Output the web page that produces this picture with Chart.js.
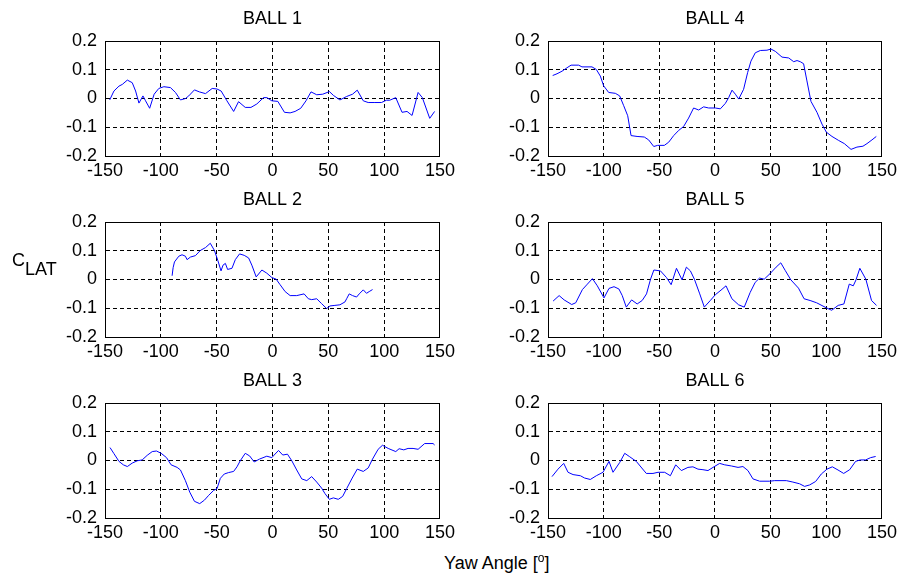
<!DOCTYPE html>
<html lang="en">
<head>
<meta charset="UTF-8">
<title>Lateral force coefficient vs yaw angle</title>
<script src="https://cdn.jsdelivr.net/npm/chart.js"></script>
<style>
    body {
        margin: 0;
        width: 901px;
        height: 579px;
        overflow: hidden;
        background: #fff;
        position: relative;
        font-family: "Liberation Sans", Arial, sans-serif;
    }
    canvas {
        position: absolute;
    }
    .axisLabel {
        position: absolute;
        font-size: 18px;
        color: #000;
        white-space: nowrap;
    }
    #ylab .sub {
        position: relative;
        top: 9px;
    }
    #xlab .sup {
        font-size: 12px;
        position: relative;
        top: -7px;
    }
</style>
</head>
<body>
<canvas id="c1" width="414" height="186"></canvas>
<canvas id="c2" width="414" height="186"></canvas>
<canvas id="c3" width="414" height="186"></canvas>
<canvas id="c4" width="413" height="186"></canvas>
<canvas id="c5" width="413" height="186"></canvas>
<canvas id="c6" width="413" height="186"></canvas>
<div id="ylab" class="axisLabel" style="left:12px; top:250px;">C<span class="sub">LAT</span></div>
<div id="xlab" class="axisLabel" style="left:444px; top:553px;">Yaw Angle [<span class="sup">o</span>]</div>

<script>
    // values
    const ballNames = ['BALL 1', 'BALL 2', 'BALL 3', 'BALL 4', 'BALL 5', 'BALL 6'];
    const xTicks = [-150, -100, -50, 0, 50, 100, 150];
    const yTicks = [-0.2, -0.1, 0, 0.1, 0.2];

    const ball1Yaw = [-145.8, -142, -137.5, -134.5, -130, -125.6, -122.6, -119.6, -116, -113.7, -110, -106, -101.8, -97.3, -91.4, -86.9, -82.4, -77.9, -75, -69.9, -65.5, -60, -54, -49.7, -46, -40.8, -34.8, -30.4, -24.4, -19.3, -14, -8, -5, -0.6, 4.8, 10.7, 15.8, 20.2, 25.3, 30, 34.5, 39.6, 45, 51, 54.5, 60.4, 66.4, 71.7, 75.9, 81.3, 85.7, 91.7, 97.6, 102, 105, 110.4, 116, 120.5, 125, 130.4, 134.2, 140.8, 145.2];
    const ball1CLat = [-0.005, 0.026, 0.043, 0.049, 0.064, 0.055, 0.026, -0.016, 0.009, -0.008, -0.034, 0.015, 0.035, 0.041, 0.038, 0.021, -0.005, 0, 0.009, 0.030, 0.023, 0.017, 0.035, 0.033, 0.026, -0.008, -0.045, -0.011, -0.031, -0.031, -0.019, 0.003, 0.003, -0.008, -0.010, -0.048, -0.050, -0.045, -0.034, -0.008, 0.023, 0.013, 0.015, 0.024, 0.011, -0.005, 0.007, 0.015, 0.029, -0.008, -0.014, -0.014, -0.014, -0.006, -0.006, 0.003, -0.048, -0.045, -0.059, 0.021, 0.003, -0.069, -0.045];

    const ball2Yaw = [-89.9, -89, -87.8, -83.9, -81, -78, -76.5, -73.5, -69, -64.6, -60, -55.7, -52, -49, -46.1, -44.3, -42.2, -40.2, -36.3, -33.3, -29.5, -25.3, -21.4, -18.5, -14.6, -9.5, -5.1, -0.6, 3.3, 6.8, 11.3, 15.8, 21.7, 28.3, 32.1, 35.1, 39.6, 44, 48.5, 51.5, 55.9, 60.4, 64.9, 66.4, 68.7, 71.7, 75.3, 77.7, 81.3, 84.2, 86.6, 89.6];
    const ball2CLat = [0.013, 0.041, 0.061, 0.081, 0.086, 0.081, 0.069, 0.078, 0.083, 0.101, 0.111, 0.126, 0.101, 0.067, 0.030, 0.050, 0.056, 0.035, 0.039, 0.069, 0.089, 0.084, 0.075, 0.050, 0.009, 0.033, 0.022, 0.007, 0.001, -0.018, -0.042, -0.056, -0.056, -0.050, -0.067, -0.070, -0.067, -0.084, -0.101, -0.092, -0.090, -0.088, -0.078, -0.067, -0.050, -0.056, -0.061, -0.050, -0.036, -0.048, -0.042, -0.035];

    const ball3Yaw = [-145.5, -142, -137.5, -133.6, -130, -125.6, -121.1, -116.7, -112.2, -107.7, -103.9, -99.7, -94.9, -90.8, -85.4, -82.4, -78, -74.1, -69.9, -65.2, -61, -57.1, -52.7, -49.7, -46.7, -43.2, -39.3, -34.8, -31.8, -28.9, -24.4, -20.5, -16.4, -11.6, -5.1, -0.6, 1.5, 5.4, 9.2, 13.4, 17.3, 21.7, 26.2, 30.7, 35.1, 39.6, 44, 47, 50.9, 54.5, 58.9, 62.8, 66.4, 71.4, 75.9, 81.3, 85.7, 89.6, 94.6, 98.5, 103.6, 110.4, 113.4, 117.6, 121.4, 125.9, 130.4, 136.3, 143.8, 145.2];
    const ball3CLat = [0.045, 0.024, -0.003, -0.015, -0.021, -0.009, -0.001, 0.002, 0.018, 0.031, 0.033, 0.025, 0.010, -0.015, -0.024, -0.033, -0.070, -0.110, -0.142, -0.150, -0.138, -0.121, -0.104, -0.098, -0.062, -0.047, -0.042, -0.038, -0.022, -0.001, 0.025, 0.016, -0.005, 0.005, 0.015, 0.010, 0.019, 0.035, 0.019, 0.022, -0.001, -0.033, -0.064, -0.070, -0.056, -0.075, -0.096, -0.115, -0.135, -0.130, -0.135, -0.125, -0.098, -0.061, -0.030, -0.038, -0.026, 0.005, 0.039, 0.053, 0.042, 0.031, 0.041, 0.037, 0.042, 0.042, 0.039, 0.059, 0.059, 0.054];

    const ball4Yaw = [-145.8, -141.9, -137.4, -132.9, -129.3, -122.5, -119.5, -110.5, -106.6, -103, -100, -95.5, -89.5, -85.6, -82, -78.4, -75.4, -70, -63.5, -59.6, -55, -51.5, -45.5, -41.6, -37.1, -32.6, -28.1, -23.7, -19.2, -14.7, -10.2, -5.7, 0.3, 4.8, 9.3, 12.3, 15.3, 18.3, 21.3, 25.7, 29.3, 32.3, 36.2, 40.7, 46.7, 50.3, 54.2, 60.2, 66.2, 70.7, 73.7, 76.6, 79.6, 82.6, 86.2, 91.6, 96.1, 100, 105.1, 111.1, 116.2, 122.2, 127.5, 132.9, 136.5, 141, 144.9];
    const ball4CLat = [0.080, 0.086, 0.095, 0.107, 0.116, 0.116, 0.110, 0.110, 0.101, 0.078, 0.044, 0.021, 0.018, 0.009, -0.025, -0.060, -0.129, -0.132, -0.134, -0.144, -0.167, -0.163, -0.163, -0.152, -0.129, -0.111, -0.097, -0.068, -0.033, -0.040, -0.029, -0.033, -0.033, -0.036, -0.017, 0.003, 0.029, 0.015, -0.002, 0.032, 0.090, 0.130, 0.159, 0.167, 0.168, 0.172, 0.164, 0.144, 0.141, 0.128, 0.132, 0.128, 0.121, 0.061, -0.010, -0.048, -0.089, -0.117, -0.132, -0.146, -0.157, -0.177, -0.169, -0.166, -0.157, -0.144, -0.132];

    const ball5Yaw = [-145.4, -140, -135.5, -128.7, -125.1, -119.1, -114.6, -110.1, -105.7, -99.7, -95.2, -90.7, -86.3, -83.3, -79.7, -74.9, -69.9, -65.4, -61.5, -57.9, -54.9, -49, -43.6, -39.4, -34.6, -29.6, -25.7, -22.1, -18.5, -13.7, -9.6, -4.2, 0.3, 5.4, 9.9, 15.2, 21.2, 26.3, 31.6, 36.1, 40, 44.2, 49.6, 54.9, 59.1, 63, 68.1, 75, 80, 85.4, 91.3, 100.3, 104.8, 110.7, 115.8, 120.6, 124.2, 126.6, 130.1, 135.5, 140.6, 145.1];
    const ball5CLat = [-0.075, -0.056, -0.071, -0.087, -0.081, -0.035, -0.016, 0.003, -0.022, -0.064, -0.031, -0.025, -0.033, -0.056, -0.096, -0.071, -0.085, -0.073, -0.050, 0.001, 0.033, 0.030, 0.007, -0.018, 0.039, -0.001, 0.043, 0.030, 0.001, -0.050, -0.096, -0.073, -0.053, -0.037, -0.022, -0.067, -0.088, -0.096, -0.045, -0.010, 0.005, 0.001, 0.021, 0.043, 0.058, 0.032, -0.001, -0.030, -0.067, -0.073, -0.081, -0.099, -0.107, -0.090, -0.085, -0.016, -0.022, -0.002, 0.039, 0.001, -0.073, -0.090];

    const ball6Yaw = [-146.4, -141, -135.9, -132, -127.5, -120.9, -117.1, -112, -106.6, -100.6, -95.2, -91.6, -85.6, -81.1, -76.6, -70.7, -61.7, -55.7, -51.2, -45.2, -40.1, -35.3, -30.2, -24.3, -19.8, -15.3, -10.8, -6.3, -1.8, 4.2, 8.7, 14.7, 20.7, 25.1, 29.6, 34.1, 40.1, 49.1, 53.6, 64.1, 70, 76, 80.5, 85, 90.4, 95.5, 100.6, 105.4, 110.5, 115.6, 121, 126.3, 130.5, 135.3, 139.8, 144.3];
    const ball6CLat = [-0.056, -0.030, -0.010, -0.041, -0.049, -0.053, -0.061, -0.066, -0.053, -0.041, -0.003, -0.041, -0.007, 0.025, 0.013, -0.003, -0.045, -0.045, -0.041, -0.041, -0.053, -0.015, -0.035, -0.024, -0.022, -0.030, -0.032, -0.035, -0.024, -0.010, -0.015, -0.019, -0.024, -0.021, -0.035, -0.064, -0.072, -0.072, -0.070, -0.070, -0.075, -0.081, -0.090, -0.085, -0.073, -0.047, -0.030, -0.022, -0.033, -0.045, -0.032, -0.003, 0.002, 0.002, 0.010, 0.014];

    const yawSets = [ball1Yaw, ball2Yaw, ball3Yaw, ball4Yaw, ball5Yaw, ball6Yaw];
    const cLatSets = [ball1CLat, ball2CLat, ball3CLat, ball4CLat, ball5CLat, ball6CLat];

    // plot boxes on the page: [left, top, width, height] of the plot area
    const panels = [
        [105, 41, 336, 115],
        [105, 222, 336, 115],
        [105, 403, 336, 115],
        [548, 41, 335, 115],
        [548, 222, 335, 115],
        [548, 403, 335, 115]
    ];

    const axisW = 60;
    const titleH = 41;
    const font = { family: '"Liberation Sans", Arial, sans-serif', size: 18 };

    // solid box round the plot area (matlab style)
    const framePlugin = {
        id: 'frame',
        afterDraw(chart) {
            const a = chart.chartArea;
            const ctx = chart.ctx;
            ctx.save();
            ctx.strokeStyle = '#000';
            ctx.lineWidth = 1;
            ctx.strokeRect(Math.round(a.left) + 0.5, Math.round(a.top) + 0.5,
                Math.round(a.right - a.left) - 1, Math.round(a.bottom - a.top));
            ctx.restore();
        }
    };

    function makeChart(i) {
        const [left, top] = panels[i];
        const canvas = document.getElementById('c' + (i + 1));
        canvas.style.left = (left - axisW) + 'px';
        canvas.style.top = (top - titleH) + 'px';

        const points = yawSets[i].map((x, k) => ({ x: x, y: cLatSets[i][k] }));

        return new Chart(canvas, {
            type: 'line',
            data: {
                datasets: [{
                    data: points,
                    borderColor: 'rgb(0, 0, 255)',
                    borderWidth: 1,
                    pointRadius: 0,
                    tension: 0,
                    fill: false
                }]
            },
            options: {
                responsive: false,
                animation: false,
                layout: { padding: { left: 0, right: 18, top: 0, bottom: 0 } },
                plugins: {
                    legend: { display: false },
                    tooltip: { enabled: false },
                    title: {
                        display: true,
                        text: ballNames[i],
                        fullSize: false,
                        color: '#000',
                        font: { family: font.family, size: 18, weight: 'normal' },
                        padding: { top: 8.5, bottom: 10.9 }
                    }
                },
                scales: {
                    x: {
                        type: 'linear',
                        min: xTicks[0],
                        max: xTicks[xTicks.length - 1],
                        afterBuildTicks: s => { s.ticks = xTicks.map(v => ({ value: v })); },
                        afterFit: s => { s.height = 30; },
                        ticks: { color: '#000', font: font, padding: 4, maxRotation: 0, autoSkip: false },
                        grid: { color: '#000', lineWidth: 1, drawTicks: false },
                        border: { color: '#000', width: 1, dash: [4, 3] }
                    },
                    y: {
                        min: yTicks[0],
                        max: yTicks[yTicks.length - 1],
                        afterBuildTicks: s => { s.ticks = yTicks.map(v => ({ value: v })); },
                        afterFit: s => { s.width = axisW; },
                        ticks: {
                            color: '#000', font: font, padding: 8,
                            callback: v => String(Math.round(v * 10) / 10)
                        },
                        grid: { color: '#000', lineWidth: 1, drawTicks: false },
                        border: { color: '#000', width: 1, dash: [4, 3] }
                    }
                }
            },
            plugins: [framePlugin]
        });
    }

    for (let i = 0; i < 6; i++) {
        makeChart(i);
    }
</script>
</body>
</html>
